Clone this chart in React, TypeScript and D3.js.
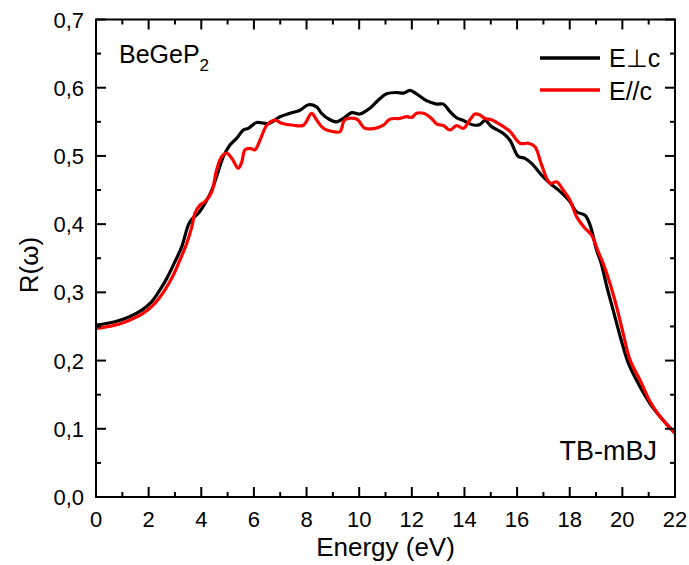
import React from "react";
import * as d3 from "d3";

const perpEnergy = [0.0, 0.72, 1.23, 1.74, 2.12, 2.43, 2.69, 3.0, 3.26, 3.51, 3.64, 3.89, 4.14, 4.4, 4.58, 4.84, 5.09, 5.35, 5.6, 5.79, 6.1, 6.36, 6.61, 6.99, 7.37, 7.75, 8.07, 8.38, 8.57, 8.89, 9.14, 9.4, 9.71, 10.03, 10.41, 10.73, 11.04, 11.42, 11.68, 11.93, 12.18, 12.56, 12.94, 13.2, 13.45, 13.7, 13.96, 14.21, 14.4, 14.59, 14.78, 15.03, 15.48, 15.73, 16.05, 16.3, 16.55, 16.93, 17.25, 17.63, 18.01, 18.26, 18.58, 18.77, 19.02, 19.2, 19.4, 19.65, 19.97, 20.22, 20.6, 21.05, 21.43, 22.0];
const perpR = [0.252, 0.257, 0.2635, 0.274, 0.2865, 0.3035, 0.3205, 0.345, 0.367, 0.399, 0.407, 0.416, 0.4305, 0.45, 0.4695, 0.499, 0.516, 0.526, 0.538, 0.5405, 0.549, 0.548, 0.548, 0.5575, 0.5625, 0.567, 0.575, 0.572, 0.5625, 0.553, 0.55, 0.555, 0.5635, 0.5615, 0.57, 0.582, 0.591, 0.593, 0.592, 0.596, 0.591, 0.581, 0.576, 0.576, 0.565, 0.556, 0.552, 0.547, 0.545, 0.546, 0.552, 0.543, 0.533, 0.523, 0.499, 0.4965, 0.489, 0.472, 0.46, 0.448, 0.433, 0.418, 0.413, 0.399, 0.362, 0.342, 0.31, 0.274, 0.228, 0.197, 0.1667, 0.137, 0.118, 0.0934];

const parEnergy = [0.0, 0.72, 1.23, 1.74, 2.24, 2.62, 2.94, 3.19, 3.45, 3.64, 3.76, 3.95, 4.14, 4.4, 4.58, 4.78, 4.97, 5.16, 5.41, 5.54, 5.66, 5.85, 6.04, 6.23, 6.49, 6.8, 7.05, 7.5, 7.88, 8.19, 8.38, 8.64, 9.02, 9.27, 9.46, 9.9, 10.22, 10.6, 10.92, 11.17, 11.55, 11.8, 12.0, 12.18, 12.44, 12.75, 12.94, 13.2, 13.45, 13.7, 13.96, 14.21, 14.4, 14.59, 14.78, 15.03, 15.48, 15.73, 16.11, 16.43, 16.68, 16.93, 17.25, 17.5, 17.75, 18.01, 18.26, 18.58, 18.83, 19.08, 19.27, 19.53, 19.78, 20.03, 20.29, 20.67, 21.05, 21.43, 22.0];
const parR = [0.247, 0.252, 0.2585, 0.268, 0.284, 0.3035, 0.3255, 0.3475, 0.372, 0.396, 0.416, 0.428, 0.433, 0.4475, 0.479, 0.499, 0.504, 0.4965, 0.482, 0.4915, 0.509, 0.511, 0.509, 0.523, 0.545, 0.5525, 0.548, 0.545, 0.545, 0.5625, 0.553, 0.5405, 0.5355, 0.5355, 0.553, 0.554, 0.5405, 0.5405, 0.545, 0.554, 0.555, 0.5575, 0.5565, 0.5625, 0.5625, 0.555, 0.547, 0.5445, 0.538, 0.5445, 0.5405, 0.553, 0.5615, 0.56, 0.555, 0.553, 0.543, 0.536, 0.5185, 0.5185, 0.5135, 0.487, 0.46, 0.462, 0.45, 0.435, 0.411, 0.394, 0.384, 0.36, 0.3425, 0.313, 0.279, 0.24, 0.201, 0.1715, 0.14, 0.118, 0.0934];

const xTickValues = [0, 2, 4, 6, 8, 10, 12, 14, 16, 18, 20, 22];
const yTickValues = [0, 0.1, 0.2, 0.3, 0.4, 0.5, 0.6, 0.7];
const yTickLabels = ["0,0", "0,1", "0,2", "0,3", "0,4", "0,5", "0,6", "0,7"];

const seriesNames = ["E\u22A5c", "E//c"];
const seriesColors = ["#000000", "#ff0000"];

const W = 689;
const H = 565;
const L = 96, R = 675, T = 19.5, B = 497;
const FONT = "'Liberation Sans', Arial, sans-serif";

export default function App() {
  const x = d3.scaleLinear().domain([0, 22]).range([L, R]);
  const y = d3.scaleLinear().domain([0, 0.7]).range([B, T]);
  const line = d3
    .line<[number, number]>()
    .x((d) => x(d[0]))
    .y((d) => y(d[1]))
    .curve(d3.curveCatmullRom.alpha(0.5));

  const perp = perpEnergy.map((e, i) => [e, perpR[i]] as [number, number]);
  const par = parEnergy.map((e, i) => [e, parR[i]] as [number, number]);

  const xMinor = d3.range(1, 22, 2);
  const yMinor = d3.range(0.05, 0.7, 0.1);

  const major = 10;
  const minor = 5;

  return (
    <div style={{ position: "absolute", left: 0, top: 0 }}>
      <svg width={W} height={H} style={{ display: "block" }} fontFamily={FONT}>
        <rect x={0} y={0} width={W} height={H} fill="#fff" />
        <defs>
          <clipPath id="plotclip">
            <rect x={L} y={T} width={R - L} height={B - T} />
          </clipPath>
        </defs>
        <g clipPath="url(#plotclip)" fill="none" strokeLinejoin="round" strokeLinecap="round">
          <path d={line(perp) || ""} stroke={seriesColors[0]} strokeWidth={3.2} />
          <path d={line(par) || ""} stroke={seriesColors[1]} strokeWidth={3.2} />
        </g>
        <g stroke="#000" strokeWidth={2}>
          {xTickValues.map((v) => (
            <g key={"xt" + v}>
              <line x1={x(v)} x2={x(v)} y1={B} y2={B - major} />
              <line x1={x(v)} x2={x(v)} y1={T} y2={T + major} />
            </g>
          ))}
          {xMinor.map((v) => (
            <g key={"xm" + v}>
              <line x1={x(v)} x2={x(v)} y1={B} y2={B - minor} />
              <line x1={x(v)} x2={x(v)} y1={T} y2={T + minor} />
            </g>
          ))}
          {yTickValues.map((v) => (
            <g key={"yt" + v}>
              <line x1={L} x2={L + major} y1={y(v)} y2={y(v)} />
              <line x1={R} x2={R - major} y1={y(v)} y2={y(v)} />
            </g>
          ))}
          {yMinor.map((v) => (
            <g key={"ym" + v}>
              <line x1={L} x2={L + minor} y1={y(v)} y2={y(v)} />
              <line x1={R} x2={R - minor} y1={y(v)} y2={y(v)} />
            </g>
          ))}
        </g>
        <rect x={L} y={T} width={R - L} height={B - T} fill="none" stroke="#000" strokeWidth={2} />
        <g fontSize={22} fill="#000">
          {xTickValues.map((v) => (
            <text key={"xl" + v} x={x(v)} y={B + 30} textAnchor="middle">
              {v}
            </text>
          ))}
          {yTickValues.map((v, i) => (
            <text key={"yl" + v} x={L - 12} y={y(v) + 8} textAnchor="end">
              {yTickLabels[i]}
            </text>
          ))}
        </g>
        <text x={(L + R) / 2} y={556} textAnchor="middle" fontSize={26}>
          Energy (eV)
        </text>
        <text transform={`translate(38, 265) rotate(-90)`} textAnchor="middle" fontSize={26}>
          R(ω)
        </text>
        <text x={119} y={63} fontSize={25}>
          BeGeP<tspan fontSize={17} dy={8}>2</tspan>
        </text>
        <text x={657} y={460} fontSize={27} textAnchor="end">
          TB-mBJ
        </text>
        {seriesNames.map((n, i) => (
          <g key={n}>
            <line x1={540} x2={600} y1={58 + i * 32} y2={58 + i * 32} stroke={seriesColors[i]} strokeWidth={3.5} />
            <text x={609} y={67 + i * 33} fontSize={25}>
              {n}
            </text>
          </g>
        ))}
      </svg>
    </div>
  );
}
